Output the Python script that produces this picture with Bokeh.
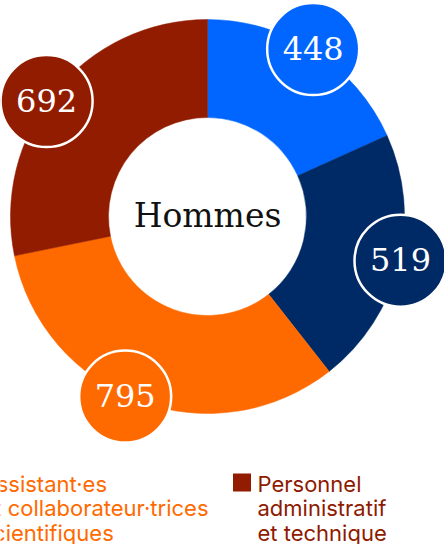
import math
from bokeh.plotting import figure
from bokeh.models import Range1d
from bokeh.core.properties import value
from bokeh.embed import file_html
from bokeh.resources import INLINE

# ---- data ----
categories = ["Catégorie bleue", "Catégorie marine",
              "Assistant·es et collaborateur·trices scientifiques",
              "Personnel administratif et technique"]
values = [448, 519, 795, 692]
colors = ["#0066FF", "#002A66", "#FF6A00", "#921C00"]
center_title = "Hommes"

legend_lines = [["Assistant·es", "et collaborateur·trices", "scientifiques"],
                ["Personnel", "administratif", "et technique"]]
legend_colors = ["#FF6A00", "#921C00"]
legend_text_colors = ["#FF6A00", "#8E1A00"]

# ---- layout (page pixels; y measured upward) ----
W, H = 444, 544
cx, cy = 207, H - 216
r_in, r_out = 99, 197
r_lab, lab_r = 198, 46
label_nudge_deg = [-0.6, -0.9, 4.4, -3.6]  # small label placement nudges

p = figure(width=W, height=H, output_backend="svg", toolbar_location=None,
           x_range=Range1d(0, W), y_range=Range1d(0, H),
           min_border=0, outline_line_color=None)
p.axis.visible = False
p.grid.visible = False
p.background_fill_color = "white"
p.border_fill_color = "white"

total = sum(values)
starts, ends, mids = [], [], []
cum = 0.0
for v in values:
    a0 = math.pi / 2 - 2 * math.pi * cum / total
    cum += v
    a1 = math.pi / 2 - 2 * math.pi * cum / total
    starts.append(a1)
    ends.append(a0)
    mids.append((a0 + a1) / 2)

p.annular_wedge(x=[cx] * len(values), y=[cy] * len(values),
                inner_radius=r_in, outer_radius=r_out,
                start_angle=starts, end_angle=ends,
                fill_color=colors, line_color=colors, line_width=0.5)

lab_ang = [m - math.radians(d) for m, d in zip(mids, label_nudge_deg)]
lx = [cx + r_lab * math.cos(a) for a in lab_ang]
ly = [cy + r_lab * math.sin(a) for a in lab_ang]
p.circle(x=lx, y=ly, radius=lab_r, fill_color=colors,
         line_color="white", line_width=2.5)
p.text(x=lx, y=[y + 1 for y in ly], text=[str(v) for v in values],
       text_font=value("DejaVu Serif"), text_font_size="32px",
       text_color="white", text_align="center", text_baseline="middle")

p.text(x=[cx], y=[cy + 1], text=[center_title],
       text_font=value("DejaVu Serif"), text_font_size="33px",
       text_color="#111111", text_align="center", text_baseline="middle")

# ---- legend ----
leg_x = [-19, 257]
base_y = H - 483
line_h = 24.5
sq = 18
sq_y = H - 482
for i, lines in enumerate(legend_lines):
    p.rect(x=[leg_x[i] - 15.5], y=[sq_y], width=sq, height=sq,
           fill_color=legend_colors[i], line_color=None)
    for j, t in enumerate(lines):
        p.text(x=[leg_x[i]], y=[base_y - j * line_h], text=[t],
               text_font=value("Inter"), text_font_size="22px",
               text_color=legend_text_colors[i], text_align="left",
               text_baseline="alphabetic")

open("out.html", "w").write(file_html(p, INLINE))
